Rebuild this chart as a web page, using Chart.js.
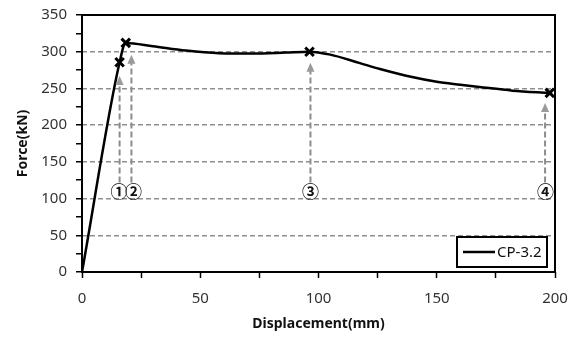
<!DOCTYPE html>
<html>
<head>
<meta charset="utf-8">
<script src="https://cdn.jsdelivr.net/npm/chart.js@4/dist/chart.umd.min.js"></script>
<style>
html,body{margin:0;padding:0;background:#fff;}
#wrap{width:575px;height:345px;}
</style>
</head>
<body>
<div id="wrap"><canvas id="c" width="575" height="345"></canvas></div>
<script>
// ---- data ----
const seriesName = "CP-3.2";
const dispX = [0, 15.9, 18.5, 30, 44, 58, 72, 86, 96.2, 105, 117.5, 126, 139.6, 150, 160, 168, 182, 197.8];
const forceY = [0, 285.7, 312, 307.5, 301.5, 298, 297.5, 298.8, 300, 296, 284.5, 276.5, 265.5, 259, 255, 252, 247, 244];
const markerX = [15.9, 18.5, 96.2, 197.8];
const markerY = [285.7, 312, 300, 244];
const annoLabels = ["①", "②", "③", "④"];
const arrowX = [15.9, 20.9, 96.6, 195.8];
const arrowTopY = [267, 296, 285, 230];
const arrowBottomY = [122, 122, 122, 122];
const labelX = [15.6, 21.8, 96.6, 196.0];
const labelY = [109, 109, 109, 109];
const xTicks = [0, 50, 100, 150, 200];
const yTicks = [0, 50, 100, 150, 200, 250, 300, 350];
const xTitle = "Displacement(mm)";
const yTitle = "Force(kN)";

const latin = "'Noto Sans', 'Open Sans', sans-serif";

const overlay = {
  id: 'overlay',
  afterDatasetsDraw(chart) {
    const {ctx, chartArea: a, scales: {x, y}} = chart;
    ctx.save();
    // arrows
    for (let i = 0; i < arrowX.length; i++) {
      const px = x.getPixelForValue(arrowX[i]);
      const top = y.getPixelForValue(arrowTopY[i]);
      const bot = y.getPixelForValue(arrowBottomY[i]);
      ctx.strokeStyle = '#8c8c8c';
      ctx.lineWidth = 2;
      ctx.setLineDash([6, 3]);
      ctx.beginPath();
      ctx.moveTo(px, bot);
      ctx.lineTo(px, top + 7);
      ctx.stroke();
      ctx.setLineDash([]);
      ctx.fillStyle = '#9a9a9a';
      ctx.beginPath();
      ctx.moveTo(px, top);
      ctx.lineTo(px - 4, top + 9);
      ctx.lineTo(px + 4, top + 9);
      ctx.closePath();
      ctx.fill();
    }
    // circled labels
    ctx.fillStyle = '#111';
    ctx.font = "bold 17px 'Noto Sans CJK KR', 'DejaVu Sans', sans-serif";
    ctx.textAlign = 'center';
    ctx.textBaseline = 'middle';
    for (let i = 0; i < annoLabels.length; i++) {
      ctx.fillText(annoLabels[i], x.getPixelForValue(labelX[i]), y.getPixelForValue(labelY[i]));
    }
    // frame
    ctx.strokeStyle = '#000';
    ctx.lineWidth = 2;
    ctx.strokeRect(a.left, a.top, a.right - a.left, a.bottom - a.top);
    // legend
    const lx = a.right - 98, ly = a.bottom - 35, lw = 90, lh = 30;
    ctx.fillStyle = '#fff';
    ctx.fillRect(lx, ly, lw, lh);
    ctx.lineWidth = 2;
    ctx.strokeRect(lx, ly, lw, lh);
    ctx.beginPath();
    ctx.moveTo(lx + 6, ly + lh / 2);
    ctx.lineTo(lx + 38, ly + lh / 2);
    ctx.lineWidth = 2.5;
    ctx.stroke();
    ctx.fillStyle = '#111';
    ctx.font = "15px " + latin;
    ctx.textAlign = 'left';
    ctx.fillText(seriesName, lx + 40, ly + lh / 2 + 1);
    ctx.restore();
  }
};

new Chart(document.getElementById('c'), {
  type: 'line',
  data: {
    datasets: [
      {
        label: seriesName,
        data: dispX.map((v, i) => ({x: v, y: forceY[i]})),
        borderColor: '#000',
        borderWidth: 2.5,
        pointRadius: 0,
        cubicInterpolationMode: 'monotone',
        fill: false
      },
      {
        label: 'markers',
        data: markerX.map((v, i) => ({x: v, y: markerY[i]})),
        showLine: false,
        pointStyle: 'crossRot',
        pointRadius: 6,
        pointBorderWidth: 3,
        borderColor: '#000',
        backgroundColor: '#000'
      }
    ]
  },
  options: {
    responsive: false,
    animation: false,
    devicePixelRatio: 1,
    layout: {padding: {left: 0, right: 20, top: 15, bottom: 0}},
    plugins: {legend: {display: false}, tooltip: {enabled: false}},
    scales: {
      x: {
        type: 'linear',
        min: 0, max: 200,
        afterFit(s) { s.height = 73; s.paddingLeft = 0; s.paddingRight = 0; },
        ticks: {
          stepSize: 25, autoSkip: false, maxRotation: 0,
          padding: 12,
          color: '#333',
          font: {family: latin, size: 15},
          callback: (v) => xTicks.includes(v) ? String(v) : ''
        },
        grid: {drawOnChartArea: false, tickLength: 6, tickColor: '#000', tickWidth: 1.5},
        border: {display: false},
        title: {display: true, text: xTitle, color: '#111', font: {family: latin, size: 14, weight: 'bold'}, padding: {top: 0, bottom: 13}}
      },
      y: {
        min: 0, max: 350,
        afterFit(s) { s.width = 82; s.paddingTop = 0; s.paddingBottom = 0; },
        ticks: {
          stepSize: 25, autoSkip: false,
          padding: 9,
          color: '#333',
          font: {family: latin, size: 15},
          callback: (v) => yTicks.includes(v) ? String(v) : ''
        },
        grid: {
          color: (c) => (c.tick && c.tick.value % 50 === 0 && c.tick.value > 0 && c.tick.value < 350) ? '#8f8f8f' : 'rgba(0,0,0,0)',
          lineWidth: 1.5,
          tickLength: 6, tickColor: '#000', tickWidth: 1.5
        },
        border: {display: false, dash: [5, 3]},
        title: {display: true, text: yTitle, color: '#111', font: {family: latin, size: 14, weight: 'bold'}, padding: {top: 15, bottom: 0}}
      }
    }
  },
  plugins: [overlay]
});
</script>
</body>
</html>
